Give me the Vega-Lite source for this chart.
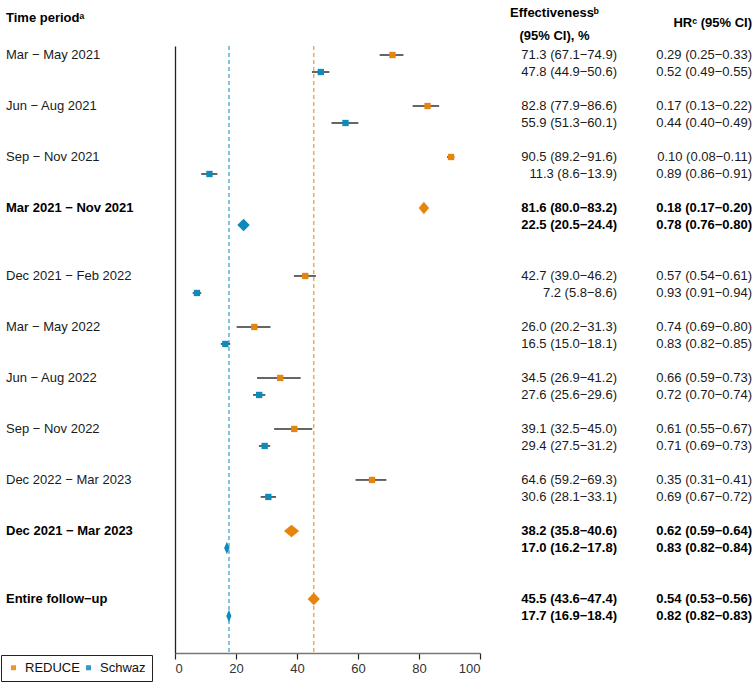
{
  "$schema": "https://vega.github.io/schema/vega-lite/v6.json",
  "padding": {"top": 7, "left": 0, "right": 1, "bottom": 0},
  "background": "white",
  "bounds": "flush",
  "datasets": {
    "rows": [
      {"key": "Mar − May 2021 | REDUCE", "period": "Mar − May 2021", "study": "REDUCE", "est": 71.3, "lo": 67.1, "hi": 74.9, "eff": "71.3 (67.1−74.9)", "hr": "0.29 (0.25−0.33)", "summary": false},
      {"key": "Mar − May 2021 | Schwaz", "period": "Mar − May 2021", "study": "Schwaz", "est": 47.8, "lo": 44.9, "hi": 50.6, "eff": "47.8 (44.9−50.6)", "hr": "0.52 (0.49−0.55)", "summary": false},
      {"key": "Jun − Aug 2021 | REDUCE", "period": "Jun − Aug 2021", "study": "REDUCE", "est": 82.8, "lo": 77.9, "hi": 86.6, "eff": "82.8 (77.9−86.6)", "hr": "0.17 (0.13−0.22)", "summary": false},
      {"key": "Jun − Aug 2021 | Schwaz", "period": "Jun − Aug 2021", "study": "Schwaz", "est": 55.9, "lo": 51.3, "hi": 60.1, "eff": "55.9 (51.3−60.1)", "hr": "0.44 (0.40−0.49)", "summary": false},
      {"key": "Sep − Nov 2021 | REDUCE", "period": "Sep − Nov 2021", "study": "REDUCE", "est": 90.5, "lo": 89.2, "hi": 91.6, "eff": "90.5 (89.2−91.6)", "hr": "0.10 (0.08−0.11)", "summary": false},
      {"key": "Sep − Nov 2021 | Schwaz", "period": "Sep − Nov 2021", "study": "Schwaz", "est": 11.3, "lo": 8.6, "hi": 13.9, "eff": "11.3 (8.6−13.9)", "hr": "0.89 (0.86−0.91)", "summary": false},
      {"key": "Mar 2021 − Nov 2021 | REDUCE", "period": "Mar 2021 − Nov 2021", "study": "REDUCE", "est": 81.6, "lo": 80.0, "hi": 83.2, "eff": "81.6 (80.0−83.2)", "hr": "0.18 (0.17−0.20)", "summary": true},
      {"key": "Mar 2021 − Nov 2021 | Schwaz", "period": "Mar 2021 − Nov 2021", "study": "Schwaz", "est": 22.5, "lo": 20.5, "hi": 24.4, "eff": "22.5 (20.5−24.4)", "hr": "0.78 (0.76−0.80)", "summary": true},
      {"key": "Dec 2021 − Feb 2022 | REDUCE", "period": "Dec 2021 − Feb 2022", "study": "REDUCE", "est": 42.7, "lo": 39.0, "hi": 46.2, "eff": "42.7 (39.0−46.2)", "hr": "0.57 (0.54−0.61)", "summary": false},
      {"key": "Dec 2021 − Feb 2022 | Schwaz", "period": "Dec 2021 − Feb 2022", "study": "Schwaz", "est": 7.2, "lo": 5.8, "hi": 8.6, "eff": "7.2 (5.8−8.6)", "hr": "0.93 (0.91−0.94)", "summary": false},
      {"key": "Mar − May 2022 | REDUCE", "period": "Mar − May 2022", "study": "REDUCE", "est": 26.0, "lo": 20.2, "hi": 31.3, "eff": "26.0 (20.2−31.3)", "hr": "0.74 (0.69−0.80)", "summary": false},
      {"key": "Mar − May 2022 | Schwaz", "period": "Mar − May 2022", "study": "Schwaz", "est": 16.5, "lo": 15.0, "hi": 18.1, "eff": "16.5 (15.0−18.1)", "hr": "0.83 (0.82−0.85)", "summary": false},
      {"key": "Jun − Aug 2022 | REDUCE", "period": "Jun − Aug 2022", "study": "REDUCE", "est": 34.5, "lo": 26.9, "hi": 41.2, "eff": "34.5 (26.9−41.2)", "hr": "0.66 (0.59−0.73)", "summary": false},
      {"key": "Jun − Aug 2022 | Schwaz", "period": "Jun − Aug 2022", "study": "Schwaz", "est": 27.6, "lo": 25.6, "hi": 29.6, "eff": "27.6 (25.6−29.6)", "hr": "0.72 (0.70−0.74)", "summary": false},
      {"key": "Sep − Nov 2022 | REDUCE", "period": "Sep − Nov 2022", "study": "REDUCE", "est": 39.1, "lo": 32.5, "hi": 45.0, "eff": "39.1 (32.5−45.0)", "hr": "0.61 (0.55−0.67)", "summary": false},
      {"key": "Sep − Nov 2022 | Schwaz", "period": "Sep − Nov 2022", "study": "Schwaz", "est": 29.4, "lo": 27.5, "hi": 31.2, "eff": "29.4 (27.5−31.2)", "hr": "0.71 (0.69−0.73)", "summary": false},
      {"key": "Dec 2022 − Mar 2023 | REDUCE", "period": "Dec 2022 − Mar 2023", "study": "REDUCE", "est": 64.6, "lo": 59.2, "hi": 69.3, "eff": "64.6 (59.2−69.3)", "hr": "0.35 (0.31−0.41)", "summary": false},
      {"key": "Dec 2022 − Mar 2023 | Schwaz", "period": "Dec 2022 − Mar 2023", "study": "Schwaz", "est": 30.6, "lo": 28.1, "hi": 33.1, "eff": "30.6 (28.1−33.1)", "hr": "0.69 (0.67−0.72)", "summary": false},
      {"key": "Dec 2021 − Mar 2023 | REDUCE", "period": "Dec 2021 − Mar 2023", "study": "REDUCE", "est": 38.2, "lo": 35.8, "hi": 40.6, "eff": "38.2 (35.8−40.6)", "hr": "0.62 (0.59−0.64)", "summary": true},
      {"key": "Dec 2021 − Mar 2023 | Schwaz", "period": "Dec 2021 − Mar 2023", "study": "Schwaz", "est": 17.0, "lo": 16.2, "hi": 17.8, "eff": "17.0 (16.2−17.8)", "hr": "0.83 (0.82−0.84)", "summary": true},
      {"key": "Entire follow−up | REDUCE", "period": "Entire follow−up", "study": "REDUCE", "est": 45.5, "lo": 43.6, "hi": 47.4, "eff": "45.5 (43.6−47.4)", "hr": "0.54 (0.53−0.56)", "summary": true},
      {"key": "Entire follow−up | Schwaz", "period": "Entire follow−up", "study": "Schwaz", "est": 17.7, "lo": 16.9, "hi": 18.4, "eff": "17.7 (16.9−18.4)", "hr": "0.82 (0.82−0.83)", "summary": true}
    ]
  },
  "data": {"name": "rows"},
  "spacing": 0,
  "resolve": {"scale": {"y": "shared", "x": "independent", "color": "independent"}, "legend": {"color": "independent"}},
  "hconcat": [
    {
      "width": 174,
      "height": 607,
      "title": {"text": "Time periodᵃ", "anchor": "start", "offset": 21, "dx": 5},
      "transform": [{"filter": "datum.study == 'REDUCE'"}],
      "layer": [
        {
          "transform": [{"filter": "!datum.summary"}],
          "mark": {"type": "text", "align": "left", "baseline": "middle", "dx": 5, "fontSize": 13, "color": "#1a1a1a"},
          "encoding": {"text": {"field": "period"}}
        },
        {
          "transform": [{"filter": "datum.summary"}],
          "mark": {"type": "text", "align": "left", "baseline": "middle", "dx": 5, "fontSize": 13, "fontWeight": "bold", "color": "#000"},
          "encoding": {"text": {"field": "period"}}
        }
      ],
      "encoding": {
        "x": {"datum": 0, "type": "quantitative", "scale": {"domain": [0, 1]}, "axis": null},
        "y": {
          "field": "key", "type": "nominal", "axis": null,
          "scale": {
            "type": "point", "padding": 0.355, "align": 0.746,
            "domain": [
              "Mar − May 2021 | REDUCE", "Mar − May 2021 | Schwaz", "gap1",
              "Jun − Aug 2021 | REDUCE", "Jun − Aug 2021 | Schwaz", "gap2",
              "Sep − Nov 2021 | REDUCE", "Sep − Nov 2021 | Schwaz", "gap3",
              "Mar 2021 − Nov 2021 | REDUCE", "Mar 2021 − Nov 2021 | Schwaz", "gap4", "gap5",
              "Dec 2021 − Feb 2022 | REDUCE", "Dec 2021 − Feb 2022 | Schwaz", "gap6",
              "Mar − May 2022 | REDUCE", "Mar − May 2022 | Schwaz", "gap7",
              "Jun − Aug 2022 | REDUCE", "Jun − Aug 2022 | Schwaz", "gap8",
              "Sep − Nov 2022 | REDUCE", "Sep − Nov 2022 | Schwaz", "gap9",
              "Dec 2022 − Mar 2023 | REDUCE", "Dec 2022 − Mar 2023 | Schwaz", "gap10",
              "Dec 2021 − Mar 2023 | REDUCE", "Dec 2021 − Mar 2023 | Schwaz", "gap11", "gap12",
              "Entire follow−up | REDUCE", "Entire follow−up | Schwaz", "gap13", "gap14"
            ]
          }
        }
      }
    },
    {
      "width": 305,
      "height": 607,
      "layer": [
        {
          "transform": [{"filter": "datum.period == 'Entire follow−up'"}],
          "mark": {"type": "rule", "strokeDash": [4, 3], "strokeWidth": 1.2, "opacity": 0.85},
          "encoding": {
            "x": {"field": "est", "type": "quantitative"},
            "y": null
          }
        },
        {
          "transform": [{"filter": "!datum.summary"}],
          "mark": {"type": "rule", "strokeWidth": 1.5},
          "encoding": {
            "x": {"field": "lo", "type": "quantitative"},
            "x2": {"field": "hi"},
            "color": {"value": "#333"}
          }
        },
        {
          "transform": [{"filter": "!datum.summary"}],
          "mark": {"type": "point", "shape": "square", "filled": true, "size": 40, "opacity": 1},
          "encoding": {
            "x": {"field": "est", "type": "quantitative"}
          }
        },
        {
          "transform": [{"filter": "datum.summary"}],
          "mark": {"type": "point", "filled": true, "size": 156, "opacity": 1},
          "encoding": {
            "x": {"field": "est", "type": "quantitative"},
            "shape": {
              "field": "key", "type": "nominal", "legend": null,
              "scale": {
                "domain": [
                  "Mar 2021 − Nov 2021 | REDUCE", "Mar 2021 − Nov 2021 | Schwaz",
                  "Dec 2021 − Mar 2023 | REDUCE", "Dec 2021 − Mar 2023 | Schwaz",
                  "Entire follow−up | REDUCE", "Entire follow−up | Schwaz"
                ],
                "range": [
                  "M-0.83,0L0,-1L0.83,0L0,1Z",
                  "M-1.02,0L0,-1L0.98,0L0,1Z",
                  "M-1.22,0L0,-1L1.22,0L0,1Z",
                  "M-0.44,0L0,-1L0.44,0L0,1Z",
                  "M-0.98,0L0,-1L0.98,0L0,1Z",
                  "M-0.44,0L0,-1L0.39,0L0,1Z"
                ]
              }
            }
          }
        }
      ],
      "encoding": {
        "x": {
          "type": "quantitative",
          "scale": {"domain": [0, 100], "nice": false, "zero": false},
          "axis": {"values": [0, 20, 40, 60, 80, 100], "title": null, "grid": false, "domainColor": "#777", "domainWidth": 1.3, "tickColor": "#222", "tickSize": 6, "tickWidth": 1.2, "labelFontSize": 13, "labelColor": "#333", "labelPadding": 3}
        },
        "y": {
          "field": "key",
          "type": "nominal",
          "axis": {"labels": false, "ticks": false, "title": null, "grid": false, "domainColor": "#222", "domainWidth": 1.3},
          "scale": {
            "type": "point", "padding": 0.355, "align": 0.746,
            "domain": [
              "Mar − May 2021 | REDUCE", "Mar − May 2021 | Schwaz", "gap1",
              "Jun − Aug 2021 | REDUCE", "Jun − Aug 2021 | Schwaz", "gap2",
              "Sep − Nov 2021 | REDUCE", "Sep − Nov 2021 | Schwaz", "gap3",
              "Mar 2021 − Nov 2021 | REDUCE", "Mar 2021 − Nov 2021 | Schwaz", "gap4", "gap5",
              "Dec 2021 − Feb 2022 | REDUCE", "Dec 2021 − Feb 2022 | Schwaz", "gap6",
              "Mar − May 2022 | REDUCE", "Mar − May 2022 | Schwaz", "gap7",
              "Jun − Aug 2022 | REDUCE", "Jun − Aug 2022 | Schwaz", "gap8",
              "Sep − Nov 2022 | REDUCE", "Sep − Nov 2022 | Schwaz", "gap9",
              "Dec 2022 − Mar 2023 | REDUCE", "Dec 2022 − Mar 2023 | Schwaz", "gap10",
              "Dec 2021 − Mar 2023 | REDUCE", "Dec 2021 − Mar 2023 | Schwaz", "gap11", "gap12",
              "Entire follow−up | REDUCE", "Entire follow−up | Schwaz", "gap13", "gap14"
            ]
          }
        },
        "color": {
          "field": "study",
          "type": "nominal",
          "scale": {"domain": ["REDUCE", "Schwaz"], "range": ["#E6850E", "#0F8BBA"]},
          "legend": {"title": null, "orient": "none", "legendX": -174, "legendY": 609, "direction": "horizontal", "symbolType": "square", "symbolSize": 25, "symbolStrokeWidth": 0, "labelFontSize": 13, "labelColor": "#111", "columnPadding": 2, "padding": 6, "strokeColor": "#222", "labelOffset": 5}
        }
      }
    },
    {
      "width": 137,
      "height": 607,
      "title": {"text": ["Effectivenessᵇ", "(95% CI), %"], "anchor": "middle", "dx": 6, "offset": 3, "lineHeight": 23},
      "layer": [
        {
          "transform": [{"filter": "!datum.summary"}],
          "mark": {"type": "text", "align": "right", "baseline": "middle", "fontSize": 13, "color": "#1a1a1a"},
          "encoding": {"text": {"field": "eff"}}
        },
        {
          "transform": [{"filter": "datum.summary"}],
          "mark": {"type": "text", "align": "right", "baseline": "middle", "fontSize": 13, "fontWeight": "bold", "color": "#000"},
          "encoding": {"text": {"field": "eff"}}
        }
      ],
      "encoding": {
        "x": {"datum": 1, "type": "quantitative", "scale": {"domain": [0, 1]}, "axis": null},
        "y": {
          "field": "key", "type": "nominal", "axis": null,
          "scale": {
            "type": "point", "padding": 0.355, "align": 0.746,
            "domain": [
              "Mar − May 2021 | REDUCE", "Mar − May 2021 | Schwaz", "gap1",
              "Jun − Aug 2021 | REDUCE", "Jun − Aug 2021 | Schwaz", "gap2",
              "Sep − Nov 2021 | REDUCE", "Sep − Nov 2021 | Schwaz", "gap3",
              "Mar 2021 − Nov 2021 | REDUCE", "Mar 2021 − Nov 2021 | Schwaz", "gap4", "gap5",
              "Dec 2021 − Feb 2022 | REDUCE", "Dec 2021 − Feb 2022 | Schwaz", "gap6",
              "Mar − May 2022 | REDUCE", "Mar − May 2022 | Schwaz", "gap7",
              "Jun − Aug 2022 | REDUCE", "Jun − Aug 2022 | Schwaz", "gap8",
              "Sep − Nov 2022 | REDUCE", "Sep − Nov 2022 | Schwaz", "gap9",
              "Dec 2022 − Mar 2023 | REDUCE", "Dec 2022 − Mar 2023 | Schwaz", "gap10",
              "Dec 2021 − Mar 2023 | REDUCE", "Dec 2021 − Mar 2023 | Schwaz", "gap11", "gap12",
              "Entire follow−up | REDUCE", "Entire follow−up | Schwaz", "gap13", "gap14"
            ]
          }
        }
      }
    },
    {
      "width": 135,
      "height": 607,
      "title": {"text": "HRᶜ (95% CI)", "anchor": "end", "offset": 16},
      "layer": [
        {
          "transform": [{"filter": "!datum.summary"}],
          "mark": {"type": "text", "align": "right", "baseline": "middle", "fontSize": 13, "color": "#1a1a1a"},
          "encoding": {"text": {"field": "hr"}}
        },
        {
          "transform": [{"filter": "datum.summary"}],
          "mark": {"type": "text", "align": "right", "baseline": "middle", "fontSize": 13, "fontWeight": "bold", "color": "#000"},
          "encoding": {"text": {"field": "hr"}}
        }
      ],
      "encoding": {
        "x": {"datum": 1, "type": "quantitative", "scale": {"domain": [0, 1]}, "axis": null},
        "y": {
          "field": "key", "type": "nominal", "axis": null,
          "scale": {
            "type": "point", "padding": 0.355, "align": 0.746,
            "domain": [
              "Mar − May 2021 | REDUCE", "Mar − May 2021 | Schwaz", "gap1",
              "Jun − Aug 2021 | REDUCE", "Jun − Aug 2021 | Schwaz", "gap2",
              "Sep − Nov 2021 | REDUCE", "Sep − Nov 2021 | Schwaz", "gap3",
              "Mar 2021 − Nov 2021 | REDUCE", "Mar 2021 − Nov 2021 | Schwaz", "gap4", "gap5",
              "Dec 2021 − Feb 2022 | REDUCE", "Dec 2021 − Feb 2022 | Schwaz", "gap6",
              "Mar − May 2022 | REDUCE", "Mar − May 2022 | Schwaz", "gap7",
              "Jun − Aug 2022 | REDUCE", "Jun − Aug 2022 | Schwaz", "gap8",
              "Sep − Nov 2022 | REDUCE", "Sep − Nov 2022 | Schwaz", "gap9",
              "Dec 2022 − Mar 2023 | REDUCE", "Dec 2022 − Mar 2023 | Schwaz", "gap10",
              "Dec 2021 − Mar 2023 | REDUCE", "Dec 2021 − Mar 2023 | Schwaz", "gap11", "gap12",
              "Entire follow−up | REDUCE", "Entire follow−up | Schwaz", "gap13", "gap14"
            ]
          }
        }
      }
    }
  ],
  "config": {
    "font": "Liberation Sans",
    "view": {"stroke": null},
    "title": {"fontSize": 13, "fontWeight": "bold", "color": "#000", "font": "Liberation Sans"},
    "axis": {"labelFont": "Liberation Sans"},
    "legend": {"labelFont": "Liberation Sans"},
    "concat": {"spacing": 0}
  }
}
